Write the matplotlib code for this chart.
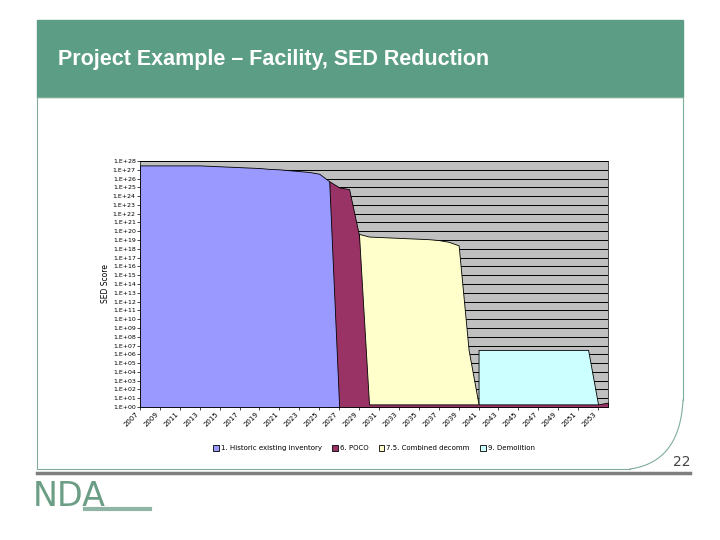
import numpy as np
import matplotlib.pyplot as plt
from matplotlib.patches import Rectangle

years = np.arange(2007, 2055)

# log10 of SED score per year, NaN where the series is absent
historic = [27.5, 27.5, 27.5, 27.5, 27.5, 27.5, 27.5, 27.45, 27.4, 27.35, 27.3, 27.25, 27.2, 27.1,
            27.05, 26.95, 26.85, 26.75, 26.55, 25.7, 0.0] + [np.nan] * 27
poco = [np.nan] * 19 + [25.7, 25.0, 24.8, 19.5, 0.3] + [0.3] * 23 + [0.5]
combined = [np.nan] * 22 + [19.7, 19.4, 19.35, 19.3, 19.25, 19.2, 19.15, 19.1, 19.0, 18.8, 18.4,
                            6.5, 0.3] + [np.nan] * 13
demolition = [np.nan] * 34 + [6.5] * 12 + [0.3, np.nan]

series = [
    ('1. Historic existing inventory', historic, '#9999ff'),
    ('6. POCO', poco, '#993366'),
    ('7.5. Combined decomm', combined, '#ffffcc'),
    ('9. Demolition', demolition, '#ccffff'),
]

fig = plt.figure(figsize=(7.2, 5.4), dpi=100)
fig.patch.set_facecolor('white')

# slide decoration in pixel coordinates
bg = fig.add_axes([0, 0, 1, 1])
bg.set_xlim(0, 720)
bg.set_ylim(540, 0)
bg.axis('off')
frame = '#7fae98'
bg.add_patch(Rectangle((37, 20), 646, 77, color='#5b9e85'))
bg.text(58, 60, 'Project Example \u2013 Facility, SED Reduction', color='white',
        fontsize=15.5, fontweight='bold', va='center', family='Liberation Sans')
bg.plot([37, 37, 630], [97, 469, 469], color=frame, lw=0.8)
bg.plot([37, 683, 683], [97, 97, 400], color=frame, lw=0.8)
t = np.linspace(0, 1, 50)
bx = (1 - t) ** 2 * 683 + 2 * (1 - t) * t * 680 + t ** 2 * 630
by = (1 - t) ** 2 * 400 + 2 * (1 - t) * t * 462 + t ** 2 * 469
bg.plot(bx, by, color=frame, lw=0.8)
bg.text(690, 462, '22', fontsize=10, ha='right', va='center', color='#444444')
bg.plot([37, 690], [473, 473], color='#7f7f7f', lw=2.5)
bg.text(33, 497, 'NDA', fontsize=24, color='#6b9e85', va='center', family='DejaVu Sans Condensed')
bg.plot([85, 150], [509, 509], color='#8fb5a5', lw=3)

ax = fig.add_axes([140 / 720, 1 - 407 / 540, 468 / 720, 246 / 540])
ax.set_facecolor('#c0c0c0')
for i, (name, vals, col) in enumerate(series):
    v = np.array(vals, dtype=float)
    ok = ~np.isnan(v)
    ax.fill_between(years[ok], 1, 10.0 ** v[ok], facecolor=col, edgecolor='black',
                    lw=0.6, label=name, zorder=10 - i)
ax.set_yscale('log')
ax.set_ylim(1, 1e28)
ax.set_xlim(2007, 2054)
ax.set_yticks([10.0 ** k for k in range(29)])
ax.set_yticklabels(['1.E+%02d' % k for k in range(29)], fontsize=4.5)
ax.minorticks_off()
ax.yaxis.grid(True, color='black', lw=0.7, zorder=1)
ax.set_axisbelow(True)
ax.set_xticks(years[::2])
ax.set_xticklabels([str(y) for y in years[::2]], rotation=45, fontsize=5, ha='right')
ax.tick_params(length=2, width=0.5, pad=1)
ax.set_ylabel('SED Score', fontsize=5.5, labelpad=2)
for s in ax.spines.values():
    s.set_linewidth(0.5)
ax.legend(loc='upper center', bbox_to_anchor=(0.5, -0.13), ncol=4, fontsize=5, frameon=False,
          handlelength=0.8, handleheight=0.8, columnspacing=1.5, handletextpad=0.3)

fig.savefig('out.png', dpi=100)
